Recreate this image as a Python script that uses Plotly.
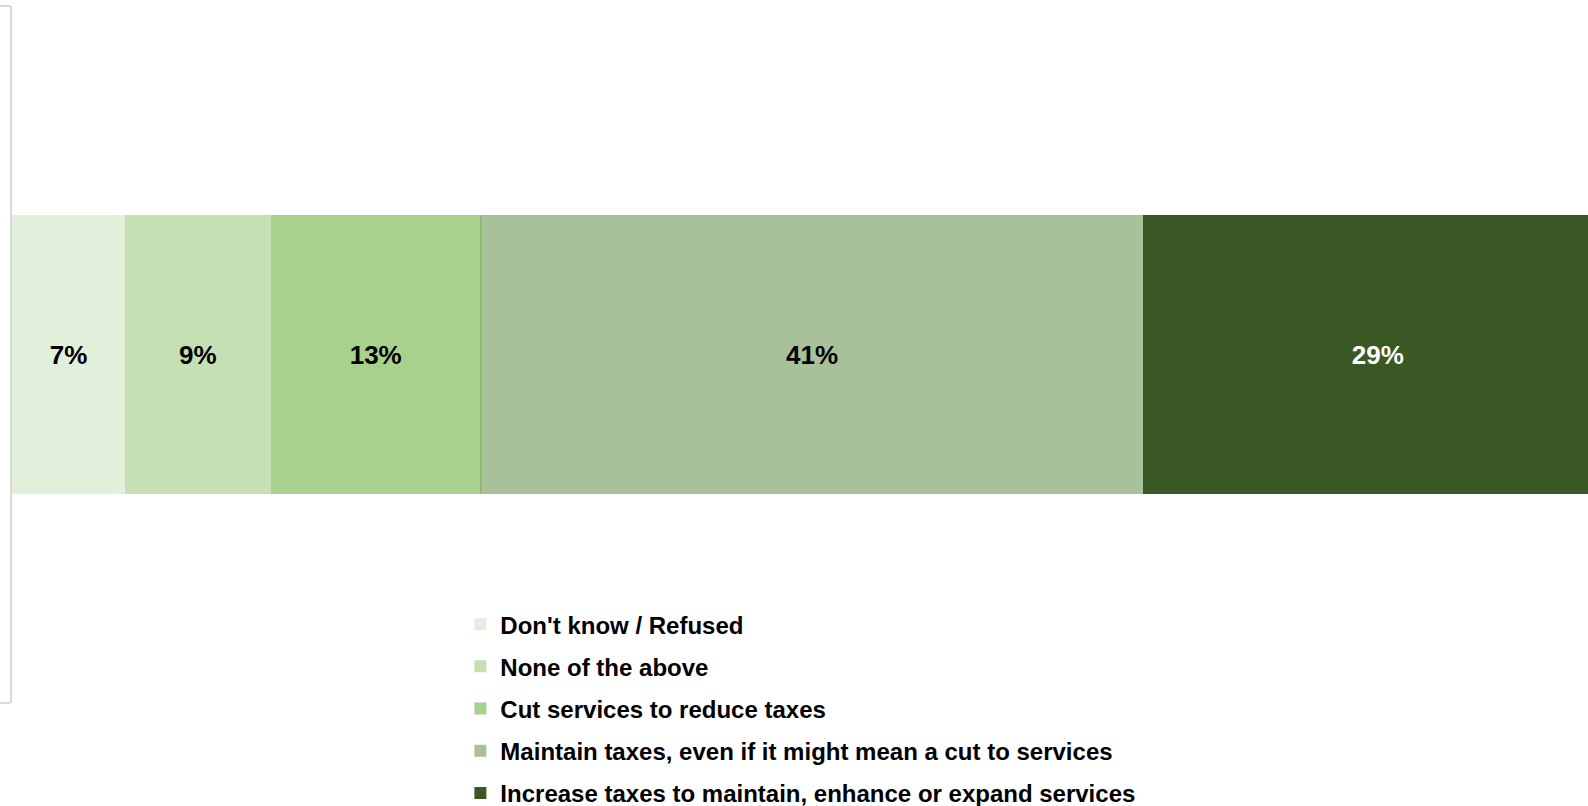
import plotly.graph_objects as go

# Survey responses, shares in percent (left to right in the stacked bar)
categories = [
    "Don't know / Refused",
    "None of the above",
    "Cut services to reduce taxes",
    "Maintain taxes, even if it might mean a cut to services",
    "Increase taxes to maintain, enhance or expand services",
]
shares = [7, 9, 13, 41, 29]
colors = ["#e2efda", "#c6e0b4", "#a9d18e", "#a9c19b", "#3a5824"]
label_colors = ["#000000", "#000000", "#000000", "#000000", "#ffffff"]
row = ["All"]

FONT = "Liberation Sans, Arial, sans-serif"

fig = go.Figure()
for name, val, col, lcol in zip(categories, shares, colors, label_colors):
    fig.add_trace(go.Bar(
        y=row,
        x=[val],
        name=name,
        orientation="h",
        legendgroup=name,
        marker=dict(color=col, line=dict(width=0)),
        texttemplate="%{x}%",
        textposition="inside",
        insidetextanchor="middle",
        textangle=0,
        textfont=dict(family=FONT, size=26, color=lcol, weight="bold"),
        hoverinfo="skip",
    ))

# thin divider on the right edge of the "Cut services" segment
edge = sum(shares[:3])
fig.add_shape(
    type="line", xref="x", yref="y",
    x0=edge, x1=edge, y0=-0.2, y1=0.2,
    line=dict(color="#7aab5c", width=1),
    layer="above",
)

fig.update_layout(
    width=1588,
    height=806,
    barmode="stack",
    bargap=0.6,
    paper_bgcolor="#ffffff",
    plot_bgcolor="#ffffff",
    margin=dict(l=12, r=0, t=6, b=103, autoexpand=False),
    showlegend=True,
    legend=dict(
        orientation="v",
        traceorder="grouped",
        tracegroupgap=8,
        x=0.2845,
        xanchor="left",
        y=0.1448,
        yanchor="top",
        font=dict(family=FONT, size=24, color="#000000", weight="bold"),
        bgcolor="rgba(0,0,0,0)",
        itemclick=False,
        itemdoubleclick=False,
    ),
    xaxis=dict(
        range=[0, 97.5],
        visible=False,
        fixedrange=True,
    ),
    yaxis=dict(
        type="category",
        showticklabels=False,
        showgrid=False,
        zeroline=False,
        showline=True,
        linecolor="#d9d9d9",
        linewidth=2,
        ticks="outside",
        tickson="boundaries",
        ticklen=10,
        tickwidth=2,
        tickcolor="#d9d9d9",
        fixedrange=True,
    ),
)

fig.write_html("out.html")
